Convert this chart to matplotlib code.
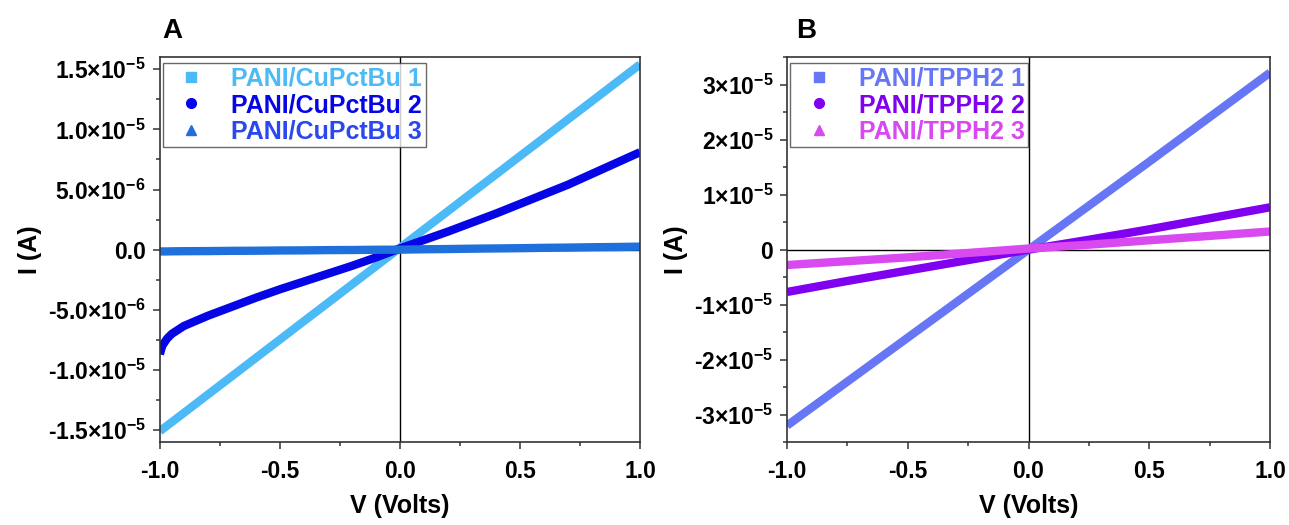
import numpy as np
import matplotlib.pyplot as plt
from matplotlib.lines import Line2D
from matplotlib.ticker import MultipleLocator, FuncFormatter

plt.rcParams['font.family'] = ['Liberation Sans', 'DejaVu Sans']
plt.rcParams['font.weight'] = 'bold'
plt.rcParams['mathtext.fontset'] = 'custom'
plt.rcParams['mathtext.rm'] = 'Liberation Sans:bold'
plt.rcParams['mathtext.bf'] = 'Liberation Sans:bold'
plt.rcParams['mathtext.it'] = 'Liberation Sans:bold'

# Panel A: PANI/CuPctBu (current in 1e-6 A)
v_a = [-1.0, -0.99, -0.97, -0.95, -0.9, -0.8, -0.7, -0.6, -0.5, -0.4, -0.3, -0.2, -0.1,
       0.0, 0.1, 0.2, 0.3, 0.4, 0.5, 0.6, 0.7, 0.8, 0.9, 1.0]
cu1 = [-15.1, -14.95, -14.64, -14.34, -13.58, -12.05, -10.53, -9.0, -7.48, -5.95, -4.43, -2.9, -1.38,
       0.15, 1.68, 3.2, 4.73, 6.25, 7.78, 9.3, 10.83, 12.35, 13.88, 15.4]
cu2 = [-8.7, -8.0, -7.4, -7.0, -6.35, -5.5, -4.75, -4.0, -3.3, -2.65, -2.0, -1.35, -0.65,
       0.1, 0.8, 1.5, 2.25, 3.0, 3.8, 4.6, 5.4, 6.3, 7.2, 8.1]
cu3 = [-0.15, -0.15, -0.15, -0.14, -0.13, -0.12, -0.1, -0.09, -0.07, -0.06, -0.04, -0.03, -0.01,
       0.0, 0.03, 0.05, 0.08, 0.1, 0.12, 0.15, 0.17, 0.2, 0.22, 0.25]
labels_a = ['PANI/CuPctBu 1', 'PANI/CuPctBu 2', 'PANI/CuPctBu 3']

# Panel B: PANI/TPPH2 (current in 1e-5 A)
v_b = [-1.0, -0.75, -0.5, -0.25, 0.0, 0.25, 0.5, 0.75, 1.0]
tp1 = [-3.2, -2.4, -1.6, -0.8, 0.0, 0.8, 1.6, 2.41, 3.22]
tp2 = [-0.77, -0.57, -0.38, -0.19, 0.0, 0.18, 0.37, 0.57, 0.77]
tp3 = [-0.28, -0.21, -0.14, -0.06, 0.02, 0.09, 0.17, 0.25, 0.33]
labels_b = ['PANI/TPPH2 1', 'PANI/TPPH2 2', 'PANI/TPPH2 3']

cols_a = ['#4dbaf8', '#0505e6', '#1f6fdc']
text_a = ['#4dbaf8', '#0505e6', '#2b48ee']
cols_b = ['#6676f5', '#8000f0', '#d84af0']
markers = ['s', 'o', '^']

fig = plt.figure(figsize=(12.89, 5.25), dpi=100)
ax_a = fig.add_axes([0.124, 0.158, 0.3725, 0.733])
ax_b = fig.add_axes([0.6106, 0.158, 0.3747, 0.733])


def sci_fmt(dec):
    def f(val, pos):
        if abs(val) < 1e-12:
            return '0.0' if dec else '0'
        exp = int(np.floor(np.log10(abs(val))))
        mant = val / 10 ** exp
        m = ('%.1f' % mant) if dec else ('%d' % round(mant))
        return m + '\u00d710$^{%d}$' % exp
    return f


def style(ax, ymaj, ymin, dec):
    ax.axhline(0, color='black', lw=1.0, zorder=1)
    ax.axvline(0, color='black', lw=1.0, zorder=1)
    ax.set_xlim(-1, 1)
    ax.xaxis.set_major_locator(MultipleLocator(0.5))
    ax.xaxis.set_minor_locator(MultipleLocator(0.25))
    ax.yaxis.set_major_locator(MultipleLocator(ymaj))
    ax.yaxis.set_minor_locator(MultipleLocator(ymin))
    ax.xaxis.set_major_formatter(FuncFormatter(lambda v, p: '%.1f' % v))
    ax.yaxis.set_major_formatter(FuncFormatter(sci_fmt(dec)))
    ax.tick_params(which='both', direction='out', top=False, right=False,
                   labelsize=16.5, width=1.1, color='#333333')
    ax.tick_params(which='major', length=5)
    ax.tick_params(axis='x', which='major', pad=8)
    ax.tick_params(axis='y', which='major', pad=5)
    ax.tick_params(which='minor', length=3)
    for s in ax.spines.values():
        s.set_linewidth(1.2)
        s.set_color('#333333')
    ax.set_xlabel('V (Volts)', fontsize=18, fontweight='bold', labelpad=8)
    ax.set_ylabel('I (A)', fontsize=18, fontweight='bold', labelpad=4)


# Panel A
for ys, c, lab in zip([cu1, cu2, cu3], cols_a, labels_a):
    ax_a.plot(v_a, np.array(ys) * 1e-6, color=c, lw=6, solid_capstyle='butt', zorder=2, label=lab)
style(ax_a, 5e-6, 2.5e-6, True)
ax_a.set_ylim(-1.6e-5, 1.6e-5)

# Panel B
for ys, c, lab in zip([tp1, tp2, tp3], cols_b, labels_b):
    ax_b.plot(v_b, np.array(ys) * 1e-5, color=c, lw=6, solid_capstyle='butt', zorder=2, label=lab)
style(ax_b, 1e-5, 0.5e-5, False)
ax_b.set_ylim(-3.5e-5, 3.5e-5)


def add_legend(ax, labels, cols, tcols):
    handles = [Line2D([], [], ls='none', marker=m, color=c, markersize=7)
               for m, c in zip(markers, cols)]
    leg = ax.legend(handles, labels, loc='upper left', bbox_to_anchor=(0.006, 0.985),
                    fontsize=18, frameon=True, fancybox=False, edgecolor='#444444',
                    handlelength=2.0, handletextpad=0.6, labelspacing=0.1,
                    borderpad=0.15, borderaxespad=0.0)
    leg.get_frame().set_linewidth(1.0)
    for t, c in zip(leg.get_texts(), tcols):
        t.set_color(c)
        t.set_fontweight('bold')


add_legend(ax_a, labels_a, cols_a, text_a)
add_legend(ax_b, labels_b, cols_b, cols_b)

fig.text(0.134, 0.94, 'A', fontsize=20, fontweight='bold', ha='center', va='center')
fig.text(0.625, 0.94, 'B', fontsize=20, fontweight='bold', ha='center', va='center')

plt.savefig('out.png', dpi=100)
